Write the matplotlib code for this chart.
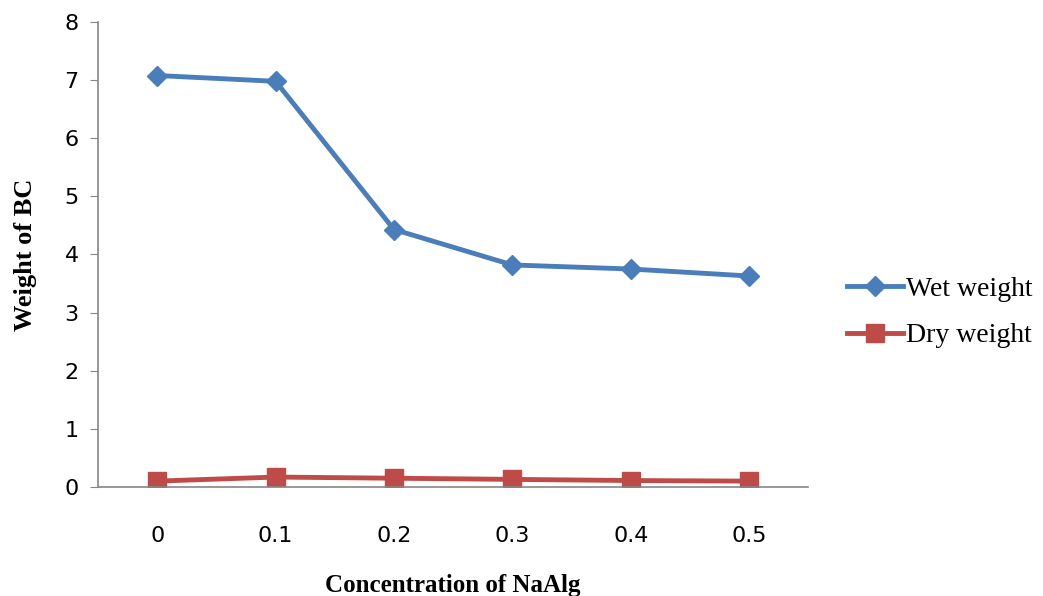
import matplotlib.pyplot as plt
from matplotlib import font_manager

conc = ["0", "0.1", "0.2", "0.3", "0.4", "0.5"]
wet = [7.08, 6.98, 4.43, 3.82, 3.75, 3.63]
dry = [0.10, 0.17, 0.15, 0.13, 0.11, 0.10]

names = {f.name for f in font_manager.fontManager.ttflist}
tick_font = "Liberation Sans Narrow" if "Liberation Sans Narrow" in names else "DejaVu Sans"

fig = plt.figure(figsize=(10.43, 5.96), dpi=100)
ax = fig.add_axes([0.094, 0.183, 0.681, 0.780])

x = range(len(conc))
ax.plot(x, wet, color="#4A7EBB", lw=3.5, marker="D", ms=10, label="Wet weight")
ax.plot(x, dry, color="#BE4B48", lw=3.5, marker="s", ms=13, label="Dry weight")

ax.set_xlim(-0.5, len(conc) - 0.5)
ax.set_ylim(0, 8)
ax.set_yticks(range(9))
ax.set_xticks(list(x))
ax.set_xticklabels(conc)

for s in ["top", "right"]:
    ax.spines[s].set_visible(False)
for s in ["left", "bottom"]:
    ax.spines[s].set_color("#868686")
    ax.spines[s].set_linewidth(1.2)
ax.tick_params(axis="y", length=6, color="#868686", labelsize=16, pad=8)
ax.tick_params(axis="x", length=0, labelsize=16, pad=28)
for lab in ax.get_xticklabels() + ax.get_yticklabels():
    lab.set_fontfamily(tick_font)

ax.set_xlabel("Concentration of NaAlg", fontfamily="Liberation Serif",
              fontweight="bold", fontsize=18, labelpad=20)
ax.set_ylabel("Weight of BC", fontfamily="Liberation Serif",
              fontweight="bold", fontsize=19, labelpad=20)

ax.legend(loc="center left", bbox_to_anchor=(1.055, 0.375), frameon=False,
          borderaxespad=0, borderpad=0,
          prop={"family": "Liberation Serif", "size": 20},
          handlelength=2.0, handletextpad=0.1, labelspacing=0.75)

fig.savefig("out.png", dpi=100)
